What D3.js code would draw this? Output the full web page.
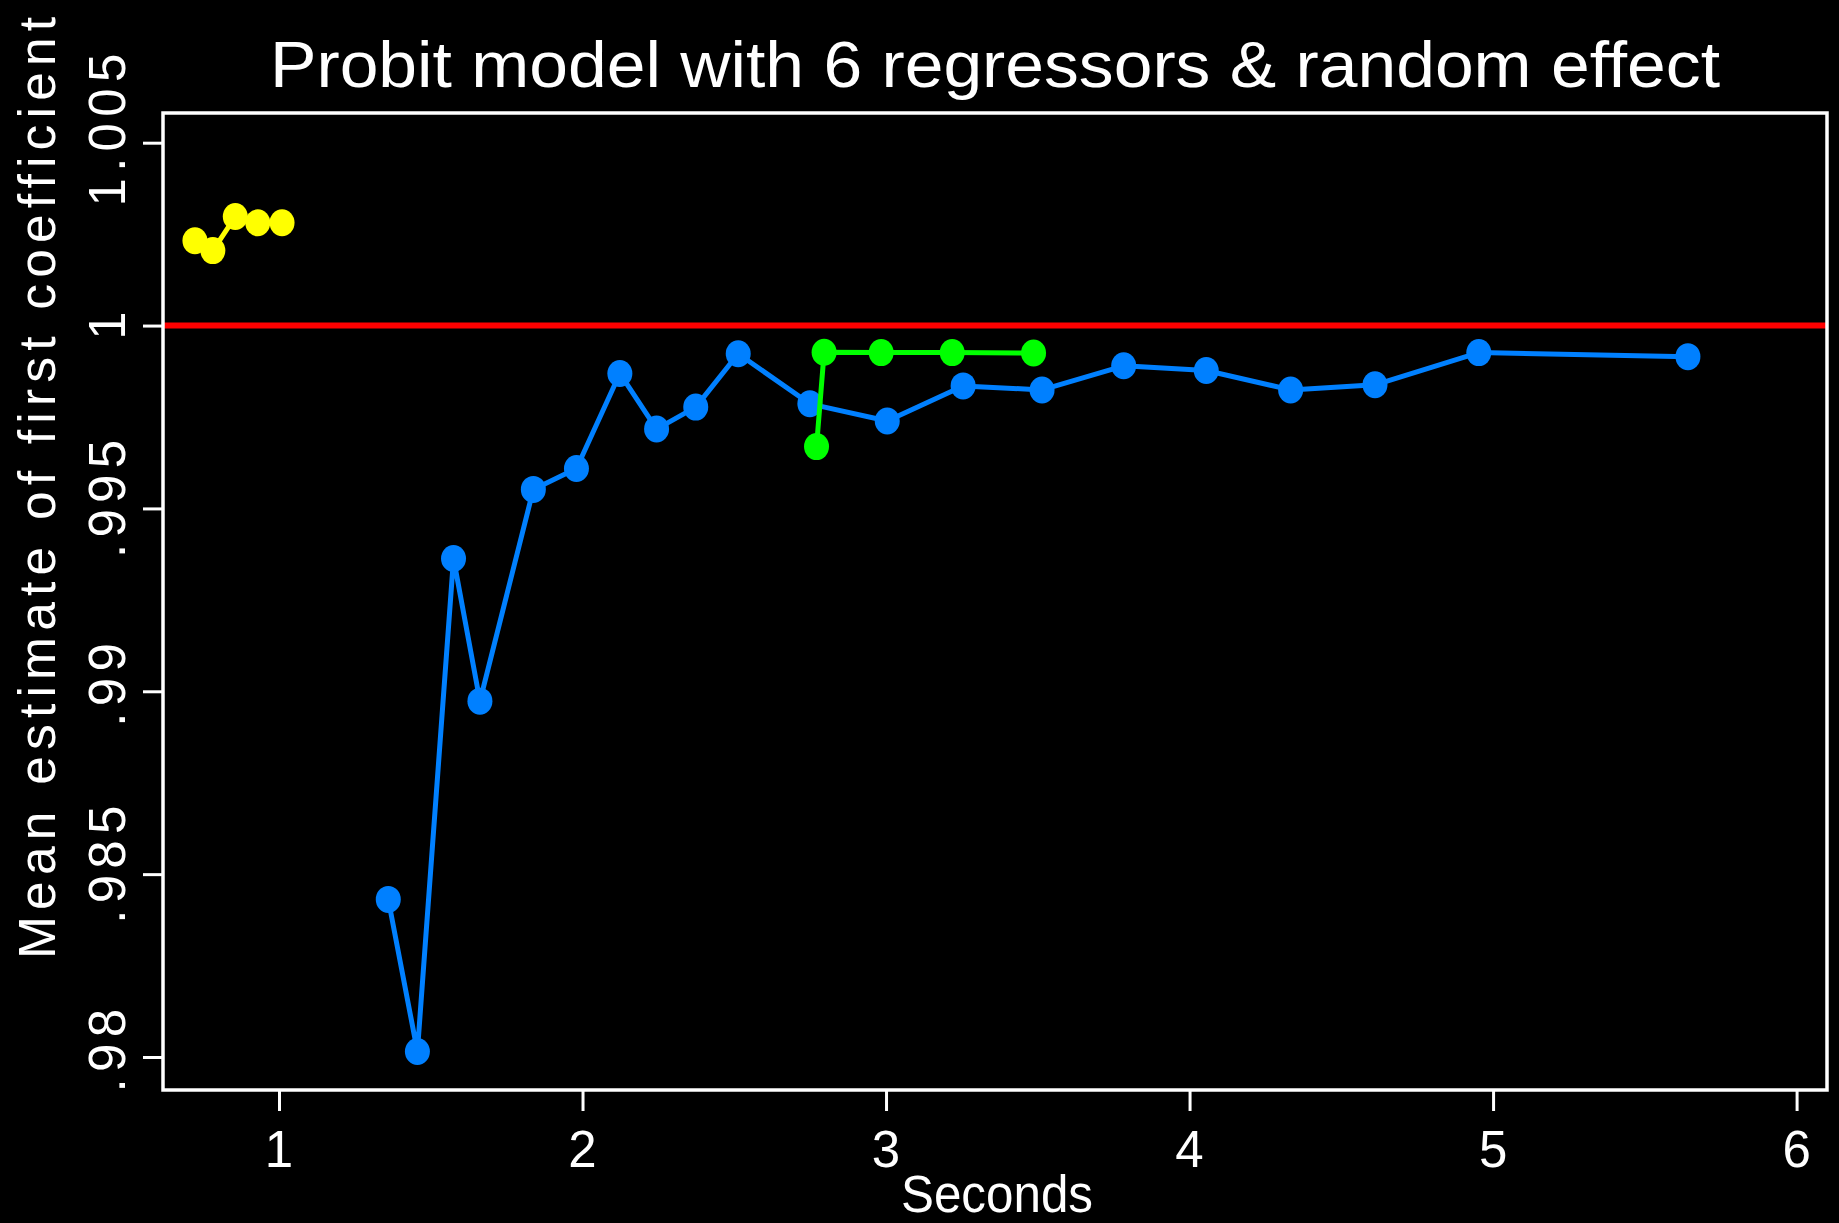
<!DOCTYPE html>
<html>
<head>
<meta charset="utf-8">
<script src="https://cdn.jsdelivr.net/npm/d3@7"></script>
<style>
  html, body { margin: 0; padding: 0; background: #000; }
  svg { display: block; }
  text { font-family: "Liberation Sans", Arial, Helvetica, sans-serif; fill: #fff; }
</style>
</head>
<body>
<svg id="chart" width="1839" height="1223"></svg>
<script>
// ---- data ----
const titleText = "Probit model with 6 regressors & random effect";
const xTitle = "Seconds";
const yTitle = "Mean estimate of first coefficient";

const xTicks = [1, 2, 3, 4, 5, 6];
const xTickLabels = ["1", "2", "3", "4", "5", "6"];
const yTicks = [0.98, 0.985, 0.99, 0.995, 1, 1.005];
const yTickLabels = [".98", ".985", ".99", ".995", "1", "1.005"];

const referenceValue = 1;

const yellowX = [0.723, 0.782, 0.856, 0.930, 1.010];
const yellowY = [1.00232, 1.00205, 1.00298, 1.00281, 1.00281];

const blueX = [1.360, 1.456, 1.575, 1.662, 1.838, 1.980, 2.123, 2.244, 2.373, 2.513,
               2.749, 3.004, 3.254, 3.514, 3.783, 4.055, 4.333, 4.611, 4.953, 5.642];
const blueY = [0.98431, 0.98015, 0.99363, 0.98973, 0.99552, 0.99609, 0.99869, 0.99717, 0.99777, 0.99923,
               0.99786, 0.99739, 0.99835, 0.99824, 0.99890, 0.99877, 0.99824, 0.99838, 0.99926, 0.99915];

const greenX = [2.771, 2.796, 2.984, 3.218, 3.486];
const greenY = [0.99669, 0.99927, 0.99926, 0.99926, 0.99925];

// ---- layout ----
const plot = { left: 163, top: 113, right: 1827, bottom: 1090 };
const svg = d3.select("#chart");
svg.append("rect").attr("width", 1839).attr("height", 1223).attr("fill", "#000");

const x = d3.scaleLinear().domain([0.6178, 6.1002]).range([plot.left, plot.right]);
const y = d3.scaleLinear().domain([0.979098, 1.005812]).range([plot.bottom, plot.top]);

// axes (ticks only)
const xAxis = svg.append("g")
  .attr("transform", `translate(0,${plot.bottom})`)
  .call(d3.axisBottom(x).tickValues(xTicks).tickSize(21).tickSizeOuter(0).tickFormat(""));
const yAxis = svg.append("g")
  .attr("transform", `translate(${plot.left},0)`)
  .call(d3.axisLeft(y).tickValues(yTicks).tickSize(20).tickSizeOuter(0).tickFormat(""));
[xAxis, yAxis].forEach(g => {
  g.select(".domain").remove();
  g.selectAll(".tick line").attr("stroke", "#fff").attr("stroke-width", 3);
});

// x tick labels
svg.append("g").selectAll("text").data(xTicks).join("text")
  .attr("x", d => x(d)).attr("y", 1167)
  .attr("text-anchor", "middle").attr("font-size", 51)
  .text((d, i) => xTickLabels[i]);

// y tick labels (rotated, spaced)
const yLab = svg.append("g");
yTicks.forEach((t, i) => {
  const tx = yLab.append("text").attr("font-size", 51).text(yTickLabels[i]);
  const w = tx.node().getComputedTextLength();
  const py = y(t) + w / 2;
  tx.attr("letter-spacing", 6.3)
    .attr("text-anchor", "start")
    .attr("transform", `translate(125,${py}) rotate(-90)`);
});

// titles
svg.append("text").attr("x", 270).attr("y", 87)
  .attr("font-size", 64).attr("textLength", 1450).attr("lengthAdjust", "spacingAndGlyphs")
  .text(titleText);

svg.append("text").attr("x", 997).attr("y", 1212)
  .attr("text-anchor", "middle").attr("font-size", 51)
  .attr("textLength", 192).attr("lengthAdjust", "spacingAndGlyphs")
  .text(xTitle);

svg.append("text")
  .attr("transform", "translate(55,959) rotate(-90)")
  .attr("font-size", 51.5).attr("letter-spacing", 6.2)
  .text(yTitle);

// reference line
svg.append("line")
  .attr("x1", plot.left).attr("x2", plot.right)
  .attr("y1", y(referenceValue)).attr("y2", y(referenceValue))
  .attr("stroke", "#ff0000").attr("stroke-width", 6);

// series
const line = d3.line().x(d => x(d[0])).y(d => y(d[1]));
function series(xs, ys, color) {
  const pts = xs.map((v, i) => [v, ys[i]]);
  const g = svg.append("g");
  g.append("path").datum(pts).attr("d", line)
    .attr("fill", "none").attr("stroke", color).attr("stroke-width", 5)
    .attr("stroke-linejoin", "round");
  g.selectAll("ellipse").data(pts).join("ellipse")
    .attr("cx", d => x(d[0])).attr("cy", d => y(d[1]))
    .attr("rx", 12.5).attr("ry", 13.5).attr("fill", color);
}
series(yellowX, yellowY, "#ffff00");
series(blueX, blueY, "#0080ff");
series(greenX, greenY, "#00ff00");

// frame
svg.append("rect")
  .attr("x", plot.left).attr("y", plot.top)
  .attr("width", plot.right - plot.left).attr("height", plot.bottom - plot.top)
  .attr("fill", "none").attr("stroke", "#fff").attr("stroke-width", 3.5);
</script>
</body>
</html>
